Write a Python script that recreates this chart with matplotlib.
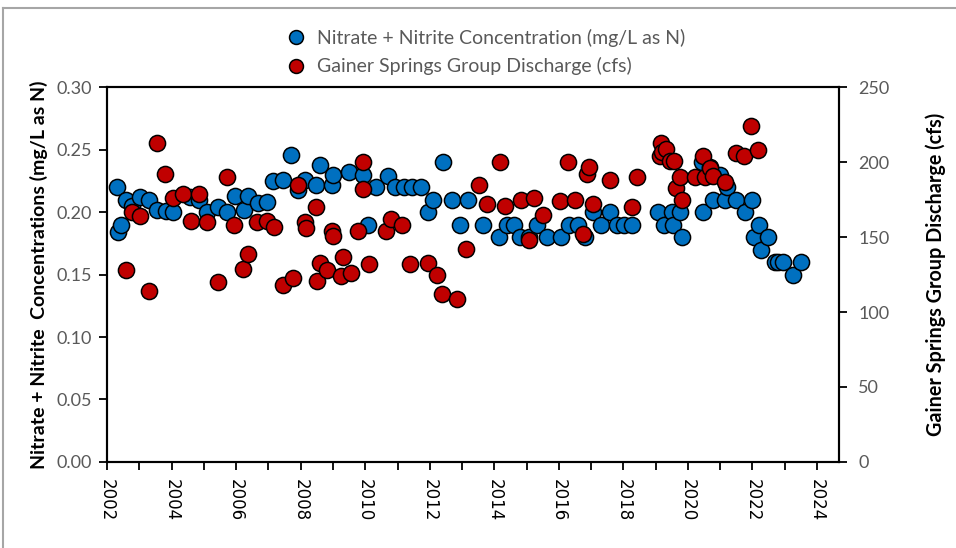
import matplotlib.pyplot as plt
from matplotlib.lines import Line2D

# Nitrate + Nitrite concentration (mg/L as N), decimal year
no3_year = [2002.30, 2002.35, 2002.42, 2002.58, 2002.78, 2003.02, 2003.31, 2003.54, 2003.83, 2004.05,
            2004.57, 2004.86, 2005.09, 2005.43, 2005.73, 2005.95, 2006.25, 2006.38, 2006.67, 2006.95,
            2007.15, 2007.46, 2007.69, 2007.93, 2008.14, 2008.47, 2008.60, 2008.96, 2009.00, 2009.50,
            2009.94, 2010.10, 2010.34, 2010.70, 2010.92, 2011.20, 2011.46, 2011.72, 2011.94, 2012.11,
            2012.42, 2012.70, 2012.94, 2013.18, 2013.66, 2014.16, 2014.39, 2014.62, 2014.80, 2015.06,
            2015.32, 2015.64, 2016.07, 2016.30, 2016.59, 2016.81, 2017.05, 2017.31, 2017.59, 2017.80,
            2018.03, 2018.26, 2019.08, 2019.26, 2019.50, 2019.53, 2019.76, 2019.83, 2020.45, 2020.48,
            2020.69, 2020.79, 2021.00, 2021.15, 2021.20, 2021.48, 2021.77, 2022.00, 2022.06, 2022.21,
            2022.26, 2022.49, 2022.70, 2022.80, 2022.96, 2023.25, 2023.51]
no3_conc = [0.22, 0.184, 0.19, 0.21, 0.205, 0.212, 0.21, 0.202, 0.201, 0.20,
            0.212, 0.21, 0.20, 0.204, 0.20, 0.213, 0.202, 0.213, 0.207, 0.208,
            0.225, 0.226, 0.246, 0.218, 0.226, 0.222, 0.238, 0.222, 0.23, 0.232,
            0.23, 0.19, 0.22, 0.229, 0.22, 0.22, 0.22, 0.22, 0.20, 0.21,
            0.24, 0.21, 0.19, 0.21, 0.19, 0.18, 0.19, 0.19, 0.18, 0.18,
            0.19, 0.18, 0.18, 0.19, 0.19, 0.18, 0.20, 0.19, 0.20, 0.19,
            0.19, 0.19, 0.20, 0.19, 0.20, 0.19, 0.20, 0.18, 0.24, 0.20,
            0.236, 0.21, 0.23, 0.21, 0.22, 0.21, 0.20, 0.21, 0.18, 0.19,
            0.17, 0.18, 0.16, 0.16, 0.16, 0.15, 0.16]

# Gainer Springs Group discharge (cfs), decimal year
q_year = [2002.58, 2002.78, 2003.02, 2003.31, 2003.54, 2003.81, 2004.04, 2004.36, 2004.60, 2004.86,
          2005.09, 2005.43, 2005.71, 2005.94, 2006.22, 2006.38, 2006.66, 2006.95, 2007.18, 2007.44,
          2007.77, 2007.93, 2008.12, 2008.16, 2008.47, 2008.50, 2008.60, 2008.83, 2008.98, 2009.00,
          2009.24, 2009.32, 2009.56, 2009.79, 2009.92, 2009.94, 2010.13, 2010.65, 2010.80, 2011.13,
          2011.39, 2011.96, 2012.22, 2012.39, 2012.84, 2013.12, 2013.53, 2013.77, 2014.18, 2014.33,
          2014.83, 2015.06, 2015.24, 2015.52, 2016.02, 2016.28, 2016.50, 2016.74, 2016.87, 2016.92,
          2017.07, 2017.59, 2018.26, 2018.41, 2019.12, 2019.17, 2019.19, 2019.31, 2019.45, 2019.57,
          2019.63, 2019.76, 2019.83, 2020.22, 2020.48, 2020.53, 2020.69, 2020.79, 2021.15, 2021.49,
          2021.75, 2021.96, 2022.16]
q_cfs = [128, 167, 164, 114, 213, 192, 176, 179, 161, 179,
         160, 120, 190, 158, 129, 139, 160, 161, 157, 118,
         123, 185, 160, 156, 170, 121, 133, 128, 154, 151,
         124, 137, 126, 154, 200, 182, 132, 154, 162, 158,
         132, 133, 125, 112, 109, 142, 185, 172, 200, 171,
         175, 148, 176, 165, 174, 200, 175, 152, 192, 197,
         172, 188, 170, 190, 204, 213, 207, 209, 201, 201,
         183, 190, 175, 190, 204, 190, 196, 191, 187, 206,
         204, 224, 208]

year_ticks = list(range(2002, 2025, 2))

plt.rcParams['font.family'] = ['Lato', 'DejaVu Sans']

fig = plt.figure(figsize=(9.56, 5.48), dpi=100)
ax = fig.add_axes([0.112, 0.157, 0.7656, 0.684])
ax2 = ax.twinx()

blue = '#0070C0'
red = '#C00000'
gray = '#595959'

ax2.scatter(q_year, q_cfs, s=135, color=red, edgecolor='black', linewidth=1.1, zorder=3)
ax.scatter(no3_year, no3_conc, s=135, color=blue, edgecolor='black', linewidth=1.1, zorder=3)
# red series sits on top of the blue one
ax.set_zorder(1)
ax2.set_zorder(2)
ax2.patch.set_visible(False)

ax.set_xlim(2002, 2024.68)
ax.set_ylim(0, 0.30)
ax2.set_ylim(0, 250)
ax.set_yticks([0, 0.05, 0.10, 0.15, 0.20, 0.25, 0.30])
ax.set_yticklabels([f'{v:.2f}' for v in ax.get_yticks()])
ax2.set_yticks(range(0, 251, 50))
ax.set_xticks(year_ticks)
ax.set_xticks(range(2002, 2025), minor=True)
ax.set_xticklabels([str(y) for y in year_ticks], rotation=270, fontsize=12,
                   family='DejaVu Sans', color='black')

for a in (ax, ax2):
    for s in a.spines.values():
        s.set_linewidth(1.5)
        s.set_color('black')
ax.tick_params(axis='x', which='both', direction='out', length=6, width=1.3, pad=6)
ax.tick_params(axis='y', direction='out', length=6, width=1.3, labelsize=13, labelcolor=gray, pad=5)
ax2.tick_params(axis='y', direction='out', length=6, width=1.3, labelsize=13, labelcolor=gray, pad=8)

ax.set_ylabel('Nitrate + Nitrite  Concentrations (mg/L as N)', fontsize=14,
              fontweight='bold', color='black', labelpad=6)
ax2.set_ylabel('Gainer Springs Group Discharge (cfs)', fontsize=14.2,
               fontweight='bold', color='black', labelpad=26)

handles = [Line2D([], [], marker='o', linestyle='none', markersize=10, markerfacecolor=blue,
                  markeredgecolor='black', markeredgewidth=1.1),
           Line2D([], [], marker='o', linestyle='none', markersize=10, markerfacecolor=red,
                  markeredgecolor='black', markeredgewidth=1.1)]
leg = fig.legend(handles, ['Nitrate + Nitrite Concentration (mg/L as N)',
                           'Gainer Springs Group Discharge (cfs)'],
                 loc='upper left', bbox_to_anchor=(0.281, 0.962), frameon=False,
                 fontsize=14, handletextpad=0.1, labelspacing=0.55, borderaxespad=0)
for t in leg.get_texts():
    t.set_color(gray)

# chart frame (top and left edges visible)
fig.add_artist(Line2D([0.003, 1.0], [0.985, 0.985], color='#a6a6a6', linewidth=1.5))
fig.add_artist(Line2D([0.003, 0.003], [0.0, 0.985], color='#a6a6a6', linewidth=1.5))

fig.savefig('out.png', dpi=100)
